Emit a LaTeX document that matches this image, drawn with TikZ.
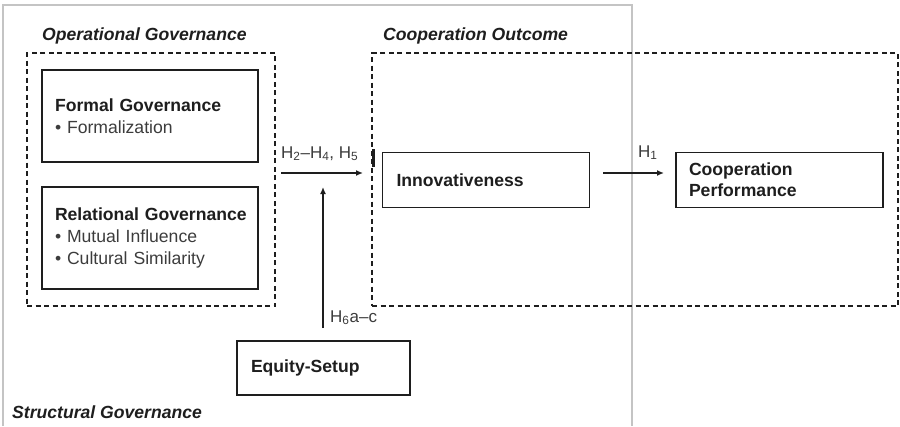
\documentclass[tikz,border=0pt]{standalone}
\usepackage{fontspec}
\setmainfont{Liberation Sans}
\usetikzlibrary{arrows.meta}
\definecolor{ink}{HTML}{1E1E1E}
\definecolor{soft}{HTML}{3C3C3C}
\definecolor{frame}{HTML}{C4C4C4}
\tikzset{
  every node/.style={font=\fontsize{17.6}{22}\selectfont, text=ink},
  solidbox/.style={draw=ink, line width=1.5pt, inner xsep=13pt, inner ysep=0pt, align=left, anchor=center},
  dashbox/.style={draw=ink, line width=1.1pt, dash pattern=on 5pt off 3.5pt, minimum width=#1},
  grouplabel/.style={font=\fontsize{17.6}{22}\selectfont\bfseries\itshape, anchor=base west, inner sep=0pt},
  hlabel/.style={font=\fontsize{17}{20}\selectfont, text=soft, anchor=base west, inner sep=0pt},
  arr/.style={draw=ink, line width=1.4pt, -{Latex[length=7pt,width=6pt]}},
}
\begin{document}
\begin{tikzpicture}[x=1pt,y=-1pt]
\useasboundingbox (0,0) rectangle (900,426);
% outer structural frame (open at bottom)
\draw[frame, line width=2pt] (3,426) -- (3,5) -- (632,5) -- (632,426);
% dashed group boxes
\node[dashbox=248pt, minimum height=253pt, inner sep=0pt] (opgov) at (151,179.5) {};
\node[dashbox=526pt, minimum height=253pt, inner sep=0pt] (coopout) at (635,179.5) {};
% group labels
\node[grouplabel] (lblop) at (42,40) {Operational Governance};
\node[grouplabel] (lblco) at (383,40) {Cooperation Outcome};
\node[grouplabel] (lblst) at (12,418) {Structural Governance};
% boxes
\node[solidbox, minimum width=216pt, minimum height=92pt, text width=190pt] (formal) at (150,116)
  {\textbf{Formal Governance}\\{\color{soft}• Formalization}};
\node[solidbox, minimum width=216pt, minimum height=102pt, text width=190pt] (relational) at (150,238)
  {\mbox{\textbf{Relational Governance}}\\{\color{soft}• Mutual Influence}\\{\color{soft}• Cultural Similarity}};
\node[solidbox, minimum width=206pt, minimum height=55pt, text width=179pt, inner xsep=14pt] (innov) at (486,180)
  {\textbf{Innovativeness}};
\node[solidbox, minimum width=207pt, minimum height=55pt, text width=181pt, font=\fontsize{17.6}{21}\selectfont] (perf) at (779.5,180)
  {\textbf{Cooperation}\\\textbf{Performance}};
\node[solidbox, minimum width=173pt, minimum height=54pt, text width=145pt, inner xsep=14pt] (equity) at (323.5,368)
  {\textbf{Equity-Setup}};
% connector end points
\coordinate (hs) at (281,173);
\coordinate (he) at (363,173);
\coordinate (vs) at (323,328);
\coordinate (ve) at (323,187);
\coordinate (is) at (603,173);
\coordinate (ie) at (664,173);
\coordinate (bt) at (373,149);
\coordinate (bb) at (373,167);
% connectors
\draw[arr] (hs) -- (he);
\draw[arr] (vs) -- (ve);
\draw[arr] (is) -- (ie);
\draw[ink, line width=3pt] (bt) -- (bb);
% hypothesis labels
\node[hlabel] (h25) at (281,158) {H\textsubscript{2}–H\textsubscript{4}, H\textsubscript{5}};
\node[hlabel] (h1) at (638,157) {H\textsubscript{1}};
\node[hlabel] (h6) at (330,322) {H\textsubscript{6}a–c};
\end{tikzpicture}
\end{document}
